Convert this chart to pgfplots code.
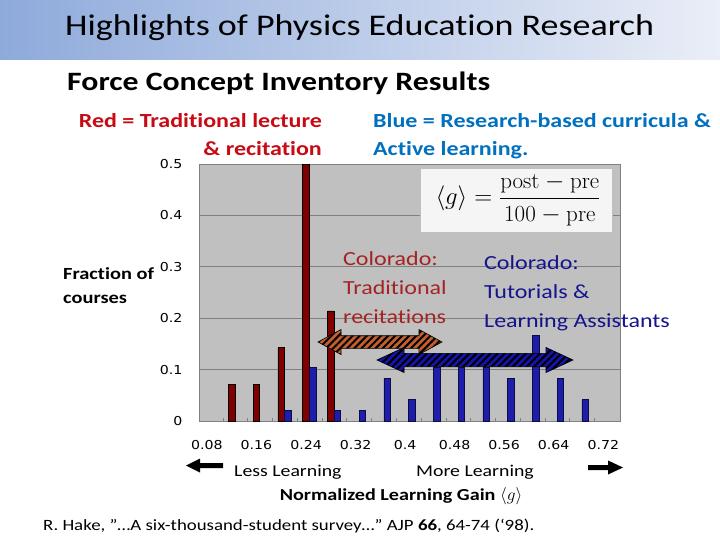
\documentclass[border=0pt]{standalone}
\usepackage{pgfplots}
\pgfplotsset{compat=1.18}
\usepackage{fontspec}
\setmainfont{Carlito}[FakeStretch=1.2, Ligatures=NoCommon]
\newfontfamily\tickfont{DejaVu Sans}[FakeStretch=1.15]
\usetikzlibrary{patterns.meta}
\newcommand\lm[1]{\mbox{\fontfamily{lmr}\selectfont #1}}
\definecolor{titleL}{RGB}{142,170,219}
\definecolor{titleR}{RGB}{234,238,247}
\definecolor{redtxt}{RGB}{200,10,20}
\definecolor{bluetxt}{RGB}{0,112,192}
\definecolor{tradbar}{RGB}{128,0,0}
\definecolor{iebar}{RGB}{30,30,170}
\definecolor{plotbg}{RGB}{192,192,192}
\definecolor{gridc}{RGB}{128,128,128}
\definecolor{colred}{RGB}{165,35,35}
\definecolor{colblue}{RGB}{20,20,140}
\definecolor{arrbrown}{RGB}{195,95,45}
\definecolor{arrblue}{RGB}{20,20,170}
\begin{document}
\begin{tikzpicture}
\begin{scope}[x=1pt,y=-1pt]
\path[use as bounding box] (0,0) rectangle (720,540);
\fill[white] (0,0) rectangle (720,540);
\shade[left color=titleL, right color=titleR] (0,0) rectangle (720,60);
\node[anchor=base west, inner sep=0pt, font=\fontsize{30}{36}\selectfont] at (65,36) {Highlights of Physics Education Research};
\node[anchor=base west, inner sep=0pt, font=\bfseries\fontsize{26.5}{30}\selectfont] at (67,91) {Force Concept Inventory Results};
\node[anchor=base east, inner sep=0pt, text=redtxt, font=\bfseries\fontsize{20}{24}\selectfont] at (322,128) {Red = Traditional lecture};
\node[anchor=base east, inner sep=0pt, text=redtxt, font=\bfseries\fontsize{20}{24}\selectfont] at (322,156) {\& recitation};
\node[anchor=base west, inner sep=0pt, text=bluetxt, font=\bfseries\fontsize{20}{24}\selectfont] at (373,128) {Blue = Research-based curricula \&};
\node[anchor=base west, inner sep=0pt, text=bluetxt, font=\bfseries\fontsize{20}{24}\selectfont] at (373,156) {Active learning.};
\node[anchor=base west, inner sep=0pt, font=\bfseries\fontsize{17}{20}\selectfont] at (63,279) {Fraction of};
\node[anchor=base west, inner sep=0pt, font=\bfseries\fontsize{17}{20}\selectfont] at (63,303) {courses};
\end{scope}
\begin{axis}[at={(199pt,-421pt)}, anchor=south west, scale only axis,
  width=421pt, height=257pt,
  xmin=0.0672, xmax=0.747, ymin=0, ymax=0.5,
  axis background/.style={fill=plotbg},
  axis line style={gridc, line width=0.8pt},
  ymajorgrids, grid style={gridc, line width=0.8pt},
  ytick={0,0.1,0.2,0.3,0.4,0.5},
  yticklabels={0,0.1,0.2,0.3,0.4,0.5},
  xtick={0.08,0.16,0.24,0.32,0.40,0.48,0.56,0.64,0.72},
  xticklabels={0.08,0.16,0.24,0.32,0.4,0.48,0.56,0.64,0.72},
  minor xtick={0.1054,0.1454,0.1854,0.2254,0.2654,0.3054,0.3454,0.3854,0.4254,0.4654,0.5054,0.5454,0.5854,0.6254,0.6654,0.7054},
  major tick length=0pt, minor tick length=3pt,
  minor tick style={gridc},
  tick pos=left,
  /pgf/number format/assume math mode=true,
  ticklabel style={font=\tickfont\fontsize{12.3}{14}\selectfont},
  xticklabel style={yshift=-16pt},
  yticklabel style={xshift=-13pt},
]
\addplot[ybar, bar width=6.5pt, bar shift=0pt, fill=tradbar, draw=black, line width=0.6pt]
  coordinates {(0.12,0.0714)(0.16,0.0714)(0.20,0.1429)(0.24,0.5)(0.28,0.2143)};
\addplot[ybar, bar width=6.5pt, bar shift=0pt, fill=iebar, draw=black!60!iebar, line width=0.5pt]
  coordinates {(0.2108,0.0208)(0.2508,0.1042)(0.2908,0.0208)(0.3308,0.0208)(0.3708,0.0833)(0.4108,0.0417)(0.4508,0.1042)(0.4908,0.1042)(0.5308,0.1042)(0.5708,0.0833)(0.6108,0.1667)(0.6508,0.0833)(0.6908,0.0417)};
\end{axis}
\begin{scope}[x=1pt,y=-1pt]
% formula box
\filldraw[fill=black!4, draw=black!25, line width=0.6pt] (420,168) rectangle (612,232);
\node[font=\fontsize{23}{27}\selectfont] at (518,200) {$\displaystyle \langle g\rangle = \frac{\lm{post}-\lm{pre}}{\lm{100}-\lm{pre}}$};
% Colorado texts
\node[anchor=base west, inner sep=0pt, text=colred, font=\fontsize{20}{24}\selectfont] at (343,265) {Colorado:};
\node[anchor=base west, inner sep=0pt, text=colred, font=\fontsize{20}{24}\selectfont] at (343,294) {Traditional};
\node[anchor=base west, inner sep=0pt, text=colred, font=\fontsize{20}{24}\selectfont] at (343,323) {recitations};
\node[anchor=base west, inner sep=0pt, text=colblue, font=\fontsize{20}{24}\selectfont] at (484,269) {Colorado:};
\node[anchor=base west, inner sep=0pt, text=colblue, font=\fontsize{20}{24}\selectfont] at (484,298) {Tutorials \&};
\node[anchor=base west, inner sep=0pt, text=colblue, font=\fontsize{20}{24}\selectfont] at (484,327) {Learning Assistants};
% hatched double arrows
\def\brownarrow{(318,342) -- (341,329.5) -- (341,335.7) -- (419,335.7) -- (419,329.5) -- (442,342) -- (419,354.5) -- (419,348.3) -- (341,348.3) -- (341,354.5) -- cycle}
\fill[arrbrown] \brownarrow;
\fill[pattern={Lines[angle=45,distance=5pt,line width=2pt]}, pattern color=black] \brownarrow;
\draw[black, line width=0.6pt] \brownarrow;
\def\bluearrow{(377,360) -- (404,347.5) -- (404,353.3) -- (546,353.3) -- (546,347.5) -- (573,360) -- (546,372.5) -- (546,366.7) -- (404,366.7) -- (404,372.5) -- cycle}
\fill[arrblue] \bluearrow;
\fill[pattern={Lines[angle=45,distance=5pt,line width=2pt]}, pattern color=black] \bluearrow;
\draw[black, line width=0.6pt] \bluearrow;
% bottom labels and arrows
\fill[black] (186,465.5) -- (200,458.5) -- (200,463) -- (223,463) -- (223,468) -- (200,468) -- (200,472.5) -- cycle;
\fill[black] (623,467.5) -- (608,460.5) -- (608,465) -- (588,465) -- (588,470) -- (608,470) -- (608,474.5) -- cycle;
\node[anchor=base west, inner sep=0pt, font=\fontsize{16.5}{20}\selectfont] at (234,476) {Less Learning};
\node[anchor=base west, inner sep=0pt, font=\fontsize{16.5}{20}\selectfont] at (416,476) {More Learning};
\node[anchor=base, inner sep=0pt, font=\bfseries\fontsize{16.8}{20}\selectfont] at (401,500) {Normalized Learning Gain $\langle g\rangle$};
\node[anchor=base west, inner sep=0pt, font=\fontsize{15.7}{18}\selectfont] at (43,530) {R. Hake, ”…A six-thousand-student survey…” AJP \textbf{66}, 64-74 (‘98).};
\end{scope}
\end{tikzpicture}
\end{document}
